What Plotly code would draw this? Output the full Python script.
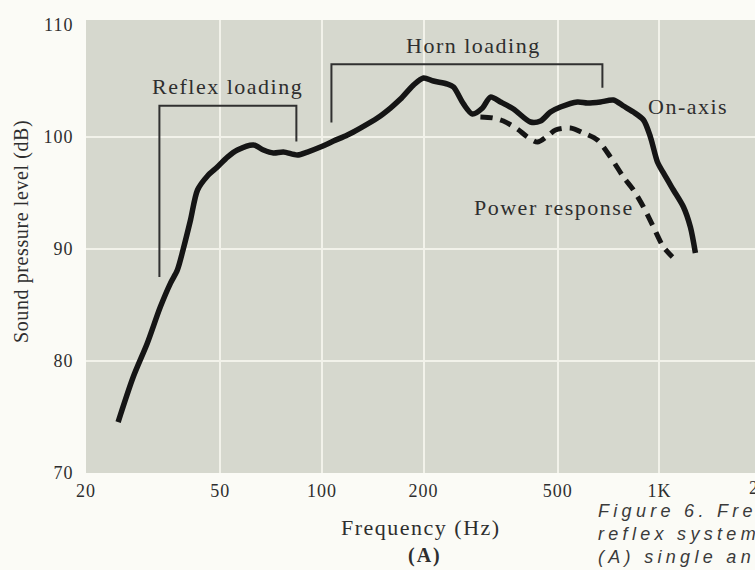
import math
import plotly.graph_objects as go

# ---------------- data ----------------
ON_AXIS_HZ = [24.9, 27.6, 30.4, 33.2, 35.6, 37.3, 38.9, 40.8, 42.8, 45.8, 49.0, 52.5, 56.2,
              62.7, 67.1, 71.8, 76.9, 84.6, 90.6, 99.0, 108.2, 119.0, 130.0, 146.0, 159.6,
              170.9, 186.7, 199.9, 214.0, 235.4, 245.4, 262.7, 279.2, 299.0, 315.8, 338.1,
              369.4, 414.8, 444.2, 475.4, 508.9, 571.6, 611.9, 668.7, 730.6, 782.3, 837.5,
              896.8, 940.4, 986.4, 1027.6, 1100, 1178, 1235, 1278]
ON_AXIS_DB = [74.55, 78.57, 81.61, 84.82, 86.96, 88.13, 90.09, 92.59, 95.27, 96.52, 97.32,
              98.21, 98.84, 99.29, 98.84, 98.57, 98.66, 98.39, 98.66, 99.11, 99.64, 100.18,
              100.80, 101.70, 102.59, 103.39, 104.64, 105.27, 105.0, 104.73, 104.46, 102.95,
              102.05, 102.59, 103.57, 103.13, 102.5, 101.34, 101.43, 102.23, 102.68, 103.13,
              103.04, 103.13, 103.30, 102.77, 102.23, 101.52, 100.0, 97.77, 96.79, 95.27,
              93.75, 91.96, 89.64]

POWER_HZ = [294.8, 322.2, 345.0, 379.7, 406.5, 435.2, 465.9, 492.0, 545.0, 595.5, 655.2,
            716.0, 782.3, 837.5, 896.8, 960.0, 1027.6, 1092.8]
POWER_DB = [101.79, 101.70, 101.43, 100.71, 100.0, 99.55, 100.09, 100.63, 100.80, 100.36,
            99.73, 98.21, 96.43, 95.27, 93.75, 91.96, 90.18, 89.29]

REFLEX_BRACKET_HZ = [33.0, 33.0, 84.0, 84.0]
REFLEX_BRACKET_DB = [87.5, 102.8, 102.8, 99.6]
HORN_BRACKET_HZ = [106.7, 106.7, 677.6, 677.6]
HORN_BRACKET_DB = [101.3, 106.5, 106.5, 104.4]

X_TICKS = [20, 50, 100, 200, 500, 1000]
X_TICK_LABELS = ["20", "50", "100", "200", "500", "1K"]
X_OFFSCALE_TICK = (2000, "2K")
Y_TICKS = [70, 80, 90, 100, 110]
Y_TICK_LABELS = ["70", "80", "90", "100", "110"]
Y_GRID = [80, 90, 100]

# caption as visible in the reference (cut by the right edge)
CAPTION = ["Figure 6. Fre", "reflex system", "(A) single an"]

# ---------------- layout geometry ----------------
W, H = 755, 570
L, R, T, B = 86, 0, 20, 97
PW, PH = W - L - R, H - T - B
X_MIN, X_MAX = 20, 1919
Y_MIN, Y_MAX = 70, 110.45


def px(x):
    return (x - L) / PW


def py(y):
    return (H - B - y) / PH


def sp(t, ls):
    return f'<span style="letter-spacing:{ls}px">{t}</span>'


SERIF = "Liberation Serif"
INK = "#2e2e2e"
LINE = "#151515"

fig = go.Figure()

for hz, db in [(REFLEX_BRACKET_HZ, REFLEX_BRACKET_DB), (HORN_BRACKET_HZ, HORN_BRACKET_DB)]:
    fig.add_trace(go.Scatter(x=hz, y=db, mode="lines",
                             line=dict(color="#303030", width=2),
                             hoverinfo="skip"))

fig.add_trace(go.Scatter(x=POWER_HZ, y=POWER_DB, mode="lines", name="Power response",
                         line=dict(color=LINE, width=5, dash="12px,8px",
                                   shape="spline", smoothing=0.8)))
fig.add_trace(go.Scatter(x=ON_AXIS_HZ, y=ON_AXIS_DB, mode="lines", name="On-axis",
                         line=dict(color=LINE, width=5.5, shape="spline", smoothing=0.8)))

for g in Y_GRID:
    fig.add_hline(y=g, line_color="#f2f2ea", line_width=2, layer="below")

fig.update_xaxes(type="log", range=[math.log10(X_MIN), math.log10(X_MAX)],
                 tickvals=X_TICKS, ticktext=[sp(t, 1) for t in X_TICK_LABELS],
                 showgrid=True, gridcolor="#f2f2ea", gridwidth=2,
                 ticks="outside", ticklen=1, tickcolor="rgba(0,0,0,0)",
                 tickfont=dict(family=SERIF, size=18, color=INK),
                 showline=False, zeroline=False)
fig.update_yaxes(range=[Y_MIN, Y_MAX], tickvals=Y_TICKS,
                 ticktext=[sp(t, 1) for t in Y_TICK_LABELS],
                 showgrid=False, ticks="outside", ticklen=8, tickcolor="rgba(0,0,0,0)",
                 tickfont=dict(family=SERIF, size=18, color=INK),
                 showline=False, zeroline=False)

ann = []
lab = dict(family=SERIF, size=22, color=INK)
ann.append(dict(x=px(227), y=py(87), text=sp("Reflex loading", 1.5), font=lab))
ann.append(dict(x=px(473), y=py(46), text=sp("Horn loading", 1.5), font=lab))
ann.append(dict(x=px(646), y=py(107), text=sp("On-axis", 1.5), font=lab, xanchor="left"))
ann.append(dict(x=px(554), y=py(207), text=sp("Power response", 1.5), font=lab))
ann.append(dict(x=px(421), y=py(527), text=sp("Frequency (Hz)", 1.5), font=lab))
ann.append(dict(x=px(425), y=py(555), text="<b>" + sp("(A)", 2) + "</b>",
                font=dict(family=SERIF, size=20, color=INK)))
ann.append(dict(x=px(22), y=py(232), text=sp("Sound pressure level (dB)", 0.6),
                textangle=-90, font=dict(family=SERIF, size=20, color=INK)))
ann.append(dict(x=(math.log10(X_OFFSCALE_TICK[0]) - math.log10(X_MIN)) /
                (math.log10(X_MAX) - math.log10(X_MIN)),
                y=py(488), text=sp(X_OFFSCALE_TICK[1], 1),
                font=dict(family=SERIF, size=18, color=INK)))
for i, line in enumerate(CAPTION):
    ann.append(dict(x=px(596), y=py(510.5 + 23.3 * i), xanchor="left",
                    text="<i>" + sp(line, 4.3) + "</i>",
                    font=dict(family="Liberation Sans", size=18, color="#3a3a3a")))
for a in ann:
    a.setdefault("xref", "paper")
    a.setdefault("yref", "paper")
    a.setdefault("showarrow", False)
    a.setdefault("xanchor", "center")
    a.setdefault("yanchor", "middle")
fig.update_layout(annotations=ann)

fig.update_layout(width=W, height=H, margin=dict(l=L, r=R, t=T, b=B, pad=0),
                  paper_bgcolor="#fbfbf6", plot_bgcolor="#d6d8ce",
                  showlegend=False, hovermode=False)

fig.write_html("out.html", config={"displayModeBar": False, "staticPlot": True},
               post_script="document.body.style.margin='0';"
                           "document.body.style.overflow='hidden';")
